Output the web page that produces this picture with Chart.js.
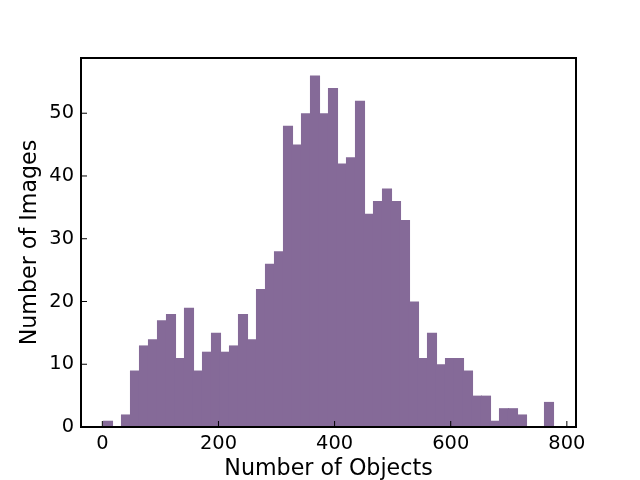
<!DOCTYPE html>
<html>
<head>
<meta charset="utf-8">
<script src="https://cdn.jsdelivr.net/npm/chart.js@4/dist/chart.umd.min.js"></script>
<style>
  body { margin: 0; background: #fff; }
  #wrap { width: 640px; height: 480px; }
</style>
</head>
<body>
<div id="wrap"><canvas id="chart" width="640" height="480"></canvas></div>
<script>
// histogram: 50 bins, first edge and width
const binStart = 2;
const binWidth = 15.5;
const counts = [
  1, 0, 2, 9, 13, 14, 17, 18, 11, 19,
  9, 12, 15, 12, 13, 18, 14, 22, 26, 28,
  48, 45, 50, 56, 50, 54, 42, 43, 52, 34,
  36, 38, 36, 33, 20, 11, 15, 10, 11, 11,
  9, 5, 5, 1, 3, 3, 2, 0, 0, 4
];
const xTicks = [0, 200, 400, 600, 800];
const yTicks = [0, 10, 20, 30, 40, 50];

const barColor = 'rgb(133,106,152)';

const bins = counts.map((c, i) => ({ x: binStart + binWidth * (i + 0.5), y: c }));

// frame + inward ticks like the original
const framePlugin = {
  id: 'frame',
  afterDatasetsDraw(chart) {
    const { ctx, chartArea: a, scales } = chart;
    ctx.save();
    ctx.strokeStyle = '#000';
    ctx.lineWidth = 1;
    ctx.beginPath();
    xTicks.forEach(v => {
      const px = scales.x.getPixelForValue(v);
      ctx.moveTo(px, a.bottom);
      ctx.lineTo(px, a.bottom - 6);
    });
    yTicks.forEach(v => {
      const py = scales.y.getPixelForValue(v);
      ctx.moveTo(a.left, py);
      ctx.lineTo(a.left + 6, py);
    });
    ctx.stroke();
    ctx.lineWidth = 2;
    ctx.strokeStyle = '#000';
    ctx.strokeRect(a.left, a.top, a.right - a.left, a.bottom - a.top);
    ctx.restore();
  }
};

const font = 'DejaVu Sans';

new Chart(document.querySelector('#chart'), {
  type: 'bar',
  data: {
    datasets: [{
      data: bins,
      backgroundColor: barColor,
      borderWidth: 0,
      inflateAmount: 0,
      barPercentage: 1.12,
      categoryPercentage: 1.0,
      grouped: false
    }]
  },
  options: {
    responsive: false,
    animation: false,
    devicePixelRatio: 1,
    layout: { padding: { left: 0, right: 64, top: 58, bottom: 0 } },
    plugins: { legend: { display: false }, tooltip: { enabled: false } },
    scales: {
      x: {
        type: 'linear',
        offset: false,
        min: -36.75,
        max: 815.75,
        grid: { display: false, drawTicks: false },
        border: { display: false },
        afterBuildTicks: s => { s.ticks = xTicks.map(v => ({ value: v })); },
        afterFit: s => { s.height = 53; },
        ticks: { color: '#000', padding: 5, maxRotation: 0, font: { family: font, size: 19.4 } },
        title: {
          display: true,
          text: 'Number of Objects',
          color: '#000',
          font: { family: font, size: 22.2, lineHeight: 1 },
          padding: { top: 0, bottom: 0 }
        }
      },
      y: {
        min: 0,
        max: 58.8,
        grid: { display: false, drawTicks: false },
        border: { display: false },
        afterBuildTicks: s => { s.ticks = yTicks.map(v => ({ value: v })); },
        afterFit: s => { s.width = 81; },
        ticks: { color: '#000', padding: 7, font: { family: font, size: 19.4 } },
        title: {
          display: true,
          text: 'Number of Images',
          color: '#000',
          font: { family: font, size: 22.2, lineHeight: 1 },
          padding: { top: 19, bottom: 0 }
        }
      }
    }
  },
  plugins: [framePlugin]
});
</script>
</body>
</html>
